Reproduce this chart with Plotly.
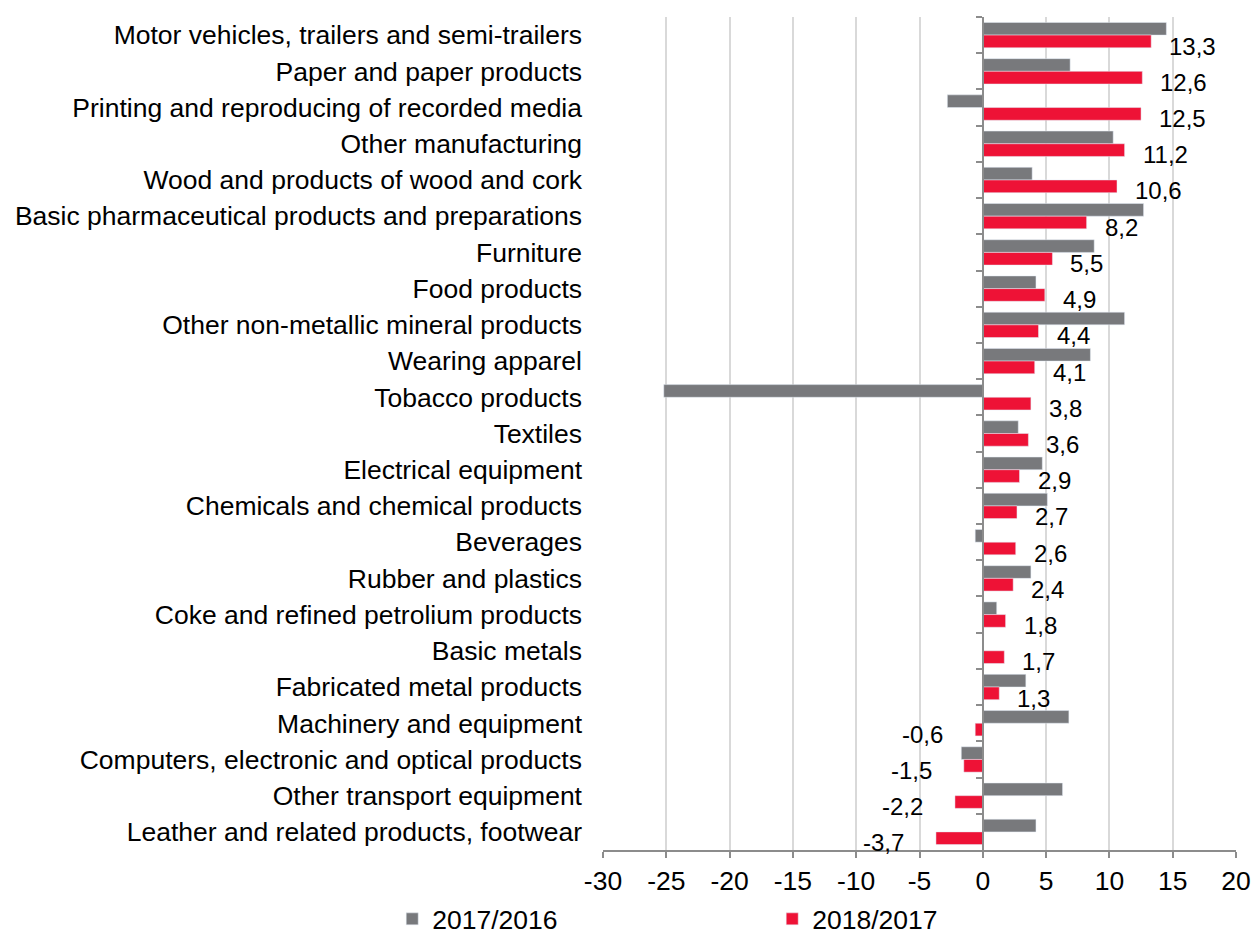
import plotly.graph_objects as go

categories = [
    "Motor vehicles, trailers and semi-trailers",
    "Paper and paper products",
    "Printing and reproducing of recorded media",
    "Other manufacturing",
    "Wood and products of wood and cork",
    "Basic pharmaceutical products and preparations",
    "Furniture",
    "Food products",
    "Other non-metallic mineral products",
    "Wearing apparel",
    "Tobacco products",
    "Textiles",
    "Electrical equipment",
    "Chemicals and chemical products",
    "Beverages",
    "Rubber and plastics",
    "Coke and refined petrolium products",
    "Basic metals",
    "Fabricated metal products",
    "Machinery and equipment",
    "Computers, electronic and optical products",
    "Other transport equipment",
    "Leather and related products, footwear",
]
growth_2017 = [14.5, 6.9, -2.8, 10.3, 3.9, 12.7, 8.8, 4.2, 11.2, 8.5, -25.2, 2.8,
               4.7, 5.1, -0.6, 3.8, 1.1, 0.0, 3.4, 6.8, -1.7, 6.3, 4.2]
growth_2018 = [13.3, 12.6, 12.5, 11.2, 10.6, 8.2, 5.5, 4.9, 4.4, 4.1, 3.8, 3.6,
               2.9, 2.7, 2.6, 2.4, 1.8, 1.7, 1.3, -0.6, -1.5, -2.2, -3.7]
x_ticks = [-30, -25, -20, -15, -10, -5, 0, 5, 10, 15, 20]
x_tick_labels = ["-30", "-25", "-20", "-15", "-10", "-5", "0", "5", "10", "15", "20"]

GRAY = "#78797c"
RED = "#ee1236"
AXIS = "#8c8c8c"
FAMILY = "Liberation Sans, Arial, sans-serif"
FONT = dict(family=FAMILY, size=26.5, color="#000000")
LABEL_FONT = dict(family=FAMILY, size=24, color="#000000")

fig = go.Figure()
fig.add_trace(go.Bar(
    name="2017/2016", y=categories, x=growth_2017,
    orientation="h", marker_color=GRAY, hoverinfo="x+y",
))
fig.add_trace(go.Bar(
    name="2018/2017", y=categories, x=growth_2018,
    orientation="h", marker_color=RED, hoverinfo="x+y",
))
# invisible trace so the axis at zero (with its boundary ticks) gets drawn
fig.add_trace(go.Scatter(
    x=[0] * len(categories), y=categories, yaxis="y2",
    mode="markers", marker=dict(opacity=0), showlegend=False, hoverinfo="skip",
))

# data labels for the 2018/2017 series
for cat, v in zip(categories, growth_2018):
    txt = f"{v:.1f}".replace(".", ",")
    fig.add_annotation(
        x=v, y=cat, text=txt, showarrow=False, font=LABEL_FONT,
        xanchor="left" if v >= 0 else "right",
        xshift=16 if v >= 0 else -30, yshift=-11,
    )

fig.update_layout(
    width=1253, height=938,
    barmode="group", bargap=0.3, bargroupgap=0,
    margin=dict(l=603, r=17, t=17, b=88, autoexpand=False),
    plot_bgcolor="white", paper_bgcolor="white",
    font=FONT,
    xaxis=dict(
        range=[-30, 20], tickvals=x_ticks, ticktext=x_tick_labels,
        showgrid=True, gridcolor="#d9d9d9", gridwidth=1.5,
        zeroline=False, showline=True, linecolor=AXIS, linewidth=2,
        ticks="outside", ticklen=6, tickcolor=AXIS, tickwidth=2,
        tickfont=FONT, fixedrange=True, automargin=False,
    ),
    yaxis=dict(
        type="category", categoryarray=categories,
        range=[len(categories) - 0.5, -0.5],
        showgrid=False, zeroline=False, showline=False, ticks="",
        tickfont=FONT, ticklabelstandoff=20, automargin=False,
    ),
    yaxis2=dict(
        type="category", categoryarray=categories, overlaying="y",
        anchor="free", position=0.6, side="left",
        range=[len(categories) - 0.5, -0.5],
        showgrid=False, zeroline=False, showticklabels=False,
        showline=True, linecolor=AXIS, linewidth=2,
        ticks="outside", tickson="boundaries", ticklen=6,
        tickcolor=AXIS, tickwidth=2, automargin=False,
    ),
    legend=dict(
        orientation="h", x=-0.333, xanchor="left", y=-0.083, yanchor="middle",
        entrywidth=335, entrywidthmode="pixels", font=FONT,
        itemwidth=30, traceorder="normal",
    ),
)

fig.write_html(
    "out.html",
    config={"displayModeBar": False},
    post_script="document.body.style.margin='0';",
)
